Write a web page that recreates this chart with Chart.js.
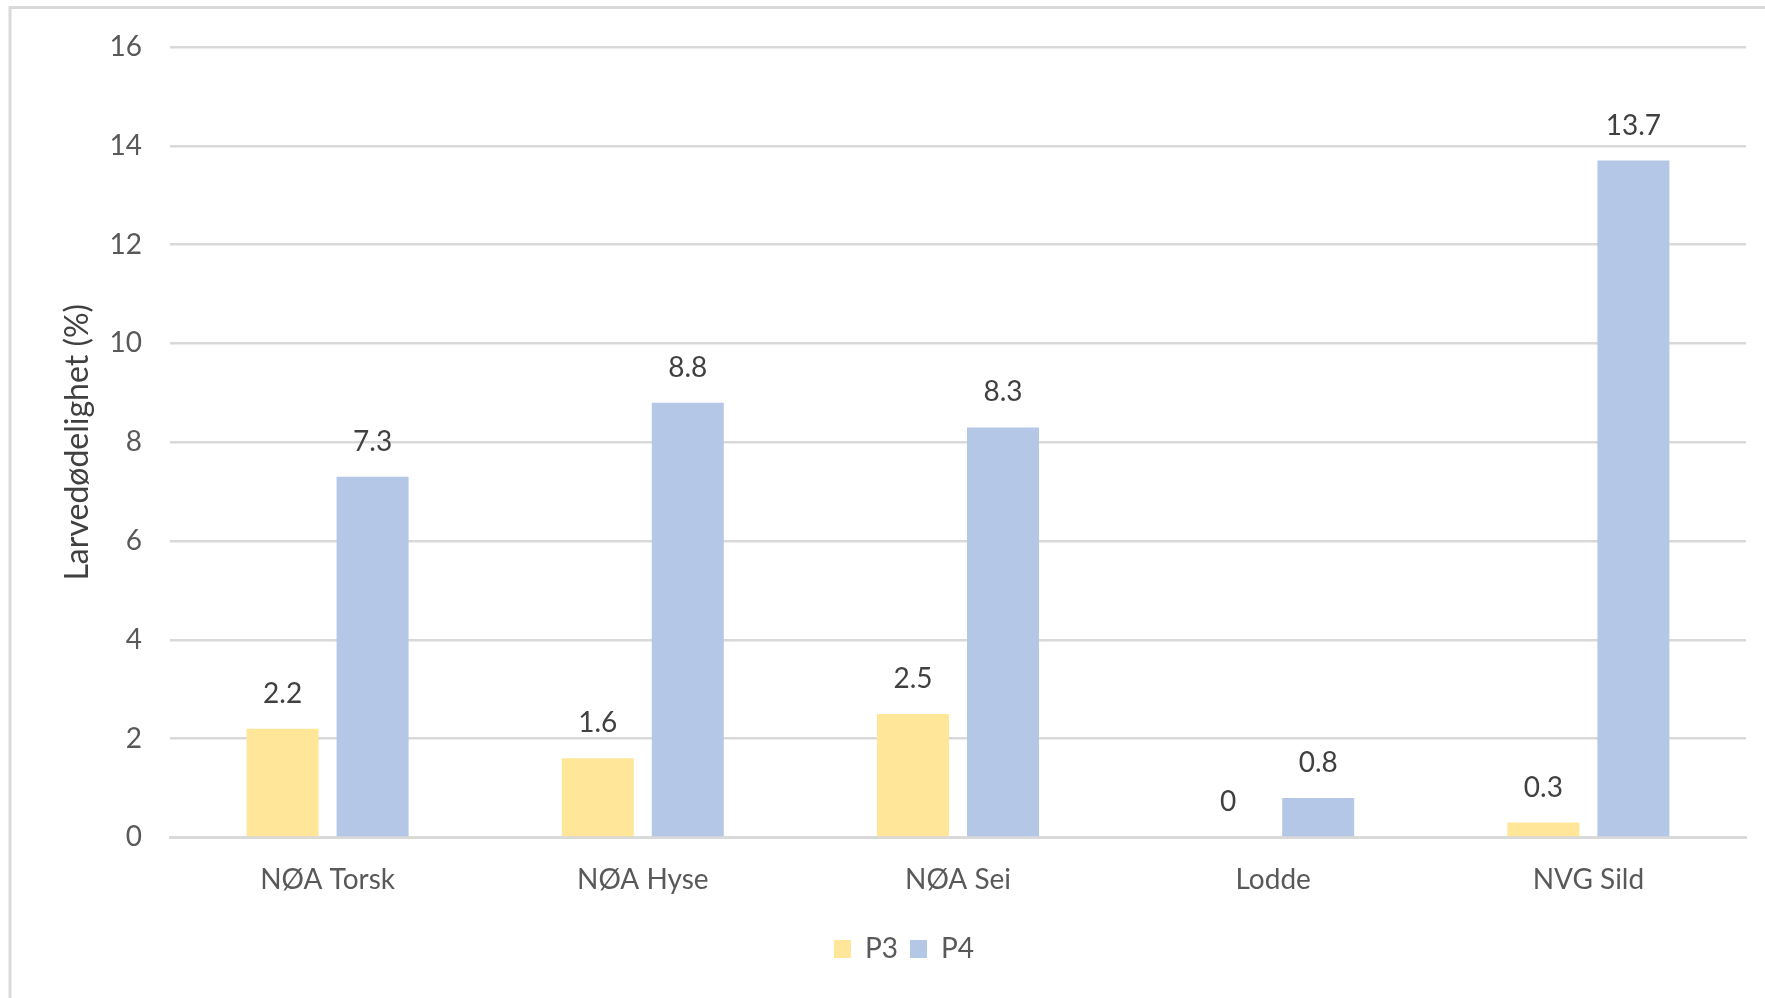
<!DOCTYPE html>
<html>
<head>
<meta charset="utf-8">
<script src="https://cdn.jsdelivr.net/npm/chart.js@4/dist/chart.umd.min.js"></script>
<style>
  html, body { margin: 0; padding: 0; background: #ffffff; }
  #wrap { position: relative; width: 1765px; height: 998px; }
</style>
</head>
<body>
<div id="wrap"><canvas id="chart" width="1765" height="998"></canvas></div>
<script>
// Species / stock categories
const categories = ['NØA Torsk', 'NØA Hyse', 'NØA Sei', 'Lodde', 'NVG Sild'];
// Larval mortality (%) per period
const p3Values = [2.2, 1.6, 2.5, 0, 0.3];
const p4Values = [7.3, 8.8, 8.3, 0.8, 13.7];
// Y axis range and step
const yTicks = [0, 2, 4, 6, 8, 10, 12, 14, 16];

const FONT = 'Lato, "Open Sans", "Liberation Sans", sans-serif';
Chart.defaults.font.family = FONT;
Chart.defaults.color = '#595959';

// White background and the thin frame lines along the top and left edges
const framePlugin = {
  id: 'frame',
  beforeDraw(chart) {
    const ctx = chart.ctx;
    ctx.save();
    ctx.fillStyle = '#ffffff';
    ctx.fillRect(0, 0, chart.width, chart.height);
    ctx.strokeStyle = '#d9d9d9';
    ctx.lineWidth = 3;
    ctx.beginPath();
    ctx.moveTo(10, chart.height);
    ctx.lineTo(10, 7.5);
    ctx.lineTo(chart.width, 7.5);
    ctx.stroke();
    ctx.restore();
  }
};

// Value labels above each bar
const valueLabels = {
  id: 'valueLabels',
  afterDatasetsDraw(chart) {
    const ctx = chart.ctx;
    ctx.save();
    ctx.font = '28px ' + FONT;
    ctx.fillStyle = '#404040';
    ctx.textAlign = 'center';
    ctx.textBaseline = 'middle';
    chart.data.datasets.forEach((ds, i) => {
      const meta = chart.getDatasetMeta(i);
      meta.data.forEach((bar, j) => {
        ctx.fillText(String(ds.data[j]), bar.x, bar.y - 35);
      });
    });
    ctx.restore();
  }
};

new Chart(document.getElementById('chart'), {
  type: 'bar',
  data: {
    labels: categories,
    datasets: [
      { label: 'P3', data: p3Values, backgroundColor: '#ffe699', borderWidth: 0,
        categoryPercentage: 0.571, barPercentage: 0.8 },
      { label: 'P4', data: p4Values, backgroundColor: '#b4c7e7', borderWidth: 0,
        categoryPercentage: 0.571, barPercentage: 0.8 }
    ]
  },
  options: {
    responsive: false,
    animation: false,
    devicePixelRatio: 1,
    layout: { padding: { top: 47, right: 19, bottom: 25, left: 62 } },
    plugins: {
      legend: {
        position: 'bottom',
        labels: {
          boxWidth: 17,
          boxHeight: 18,
          padding: 12,
          color: '#595959',
          font: { size: 28 }
        }
      },
      tooltip: { enabled: false }
    },
    scales: {
      x: {
        grid: { display: false, drawTicks: false },
        border: { display: true, color: '#d9d9d9', width: 3 },
        ticks: { padding: 26, color: '#595959', font: { size: 28 } }
      },
      y: {
        min: yTicks[0],
        max: yTicks[yTicks.length - 1],
        afterFit(scale) { scale.width = 108; },
        afterBuildTicks(scale) { scale.ticks = yTicks.map(v => ({ value: v })); },
        grid: { color: '#d9d9d9', lineWidth: 2.5, drawTicks: false },
        border: { display: false },
        ticks: { padding: 28, color: '#595959', font: { size: 28 } },
        title: {
          display: true,
          text: 'Larvedødelighet (%)',
          color: '#404040',
          font: { size: 32, lineHeight: 1.0 },
          padding: { top: 0, bottom: 0 }
        }
      }
    }
  },
  plugins: [framePlugin, valueLabels]
});
</script>
</body>
</html>
